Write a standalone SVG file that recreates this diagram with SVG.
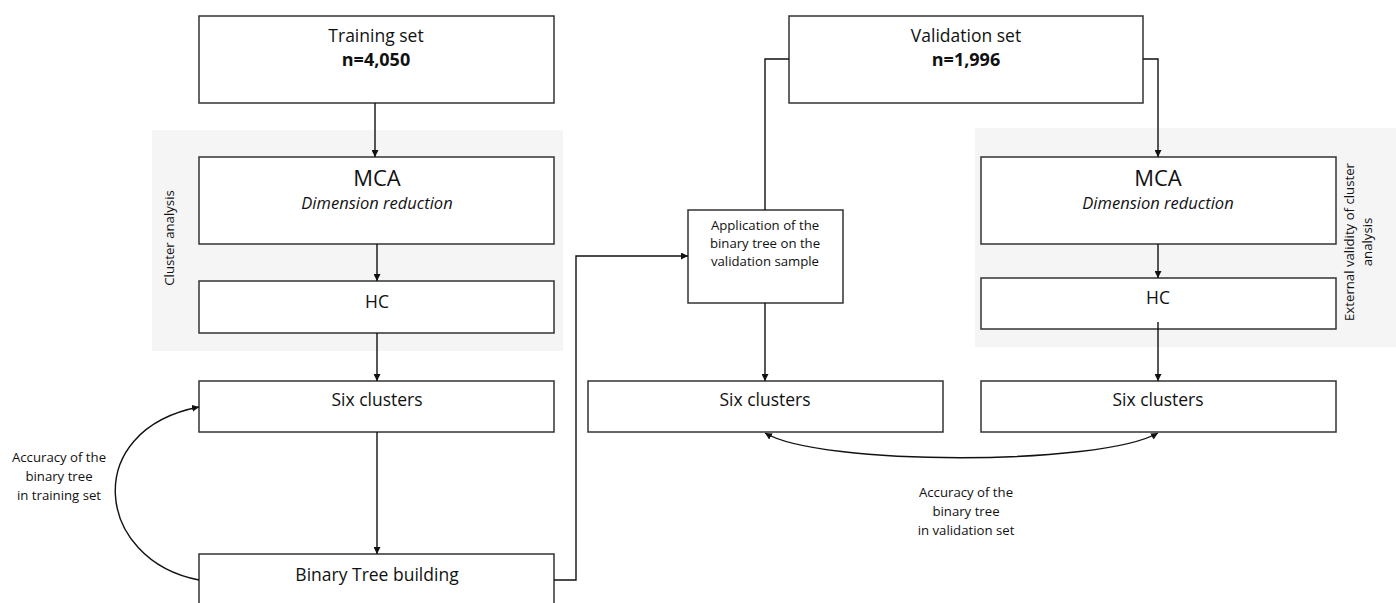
<svg xmlns="http://www.w3.org/2000/svg" width="1396" height="603" viewBox="0 0 1396 603">
<style>
.box{fill:#fff;stroke:#333;stroke-width:1.5}
.panel{fill:#f5f5f5;stroke:none}
.t{font-family:"Open Sans","Liberation Sans",sans-serif;fill:#111;text-anchor:middle}
.l{font-size:17.5px}
.big{font-size:22px}
.it{font-size:16.5px;font-style:italic}
.b{font-weight:bold;font-size:18px}
.s{font-size:13.2px}
.c{fill:none;stroke:#111;stroke-width:1.4}
</style>
<defs>
<marker id="ah" viewBox="0 0 10 10" refX="10" refY="5" markerWidth="7" markerHeight="7" markerUnits="userSpaceOnUse" orient="auto-start-reverse">
<path d="M0,0 L10,5 L0,10 z" fill="#111"/>
</marker>
</defs>
<rect class="panel" x="152" y="130" width="411" height="221"/>
<rect class="panel" x="975" y="128" width="421" height="219"/>
<text class="t s" transform="translate(174,238) rotate(-90)">Cluster analysis</text>
<text class="t s" transform="translate(1354,242) rotate(-90)">External validity of cluster</text>
<text class="t s" transform="translate(1372,242) rotate(-90)">analysis</text>

<g id="training"><rect class="box" x="199" y="16" width="355" height="87"/>
<text class="t l" x="376" y="42">Training set</text><text class="t b" x="376" y="66">n=4,050</text></g>
<g id="mca1"><rect class="box" x="199" y="157" width="355" height="87"/>
<text class="t big" x="377" y="186">MCA</text><text class="t it" x="377" y="209">Dimension reduction</text></g>
<g id="hc1"><rect class="box" x="199" y="281" width="355" height="52"/>
<text class="t l" x="377" y="308">HC</text></g>
<g id="six1"><rect class="box" x="199" y="381" width="355" height="51"/>
<text class="t l" x="377" y="406">Six clusters</text></g>
<g id="binary"><rect class="box" x="199" y="554" width="355" height="60"/>
<text class="t l" x="377" y="581">Binary Tree building</text></g>

<g id="validation"><rect class="box" x="789" y="16" width="354" height="87"/>
<text class="t l" x="966" y="42">Validation set</text><text class="t b" x="966" y="66">n=1,996</text></g>
<g id="application"><rect class="box" x="688" y="210" width="155" height="93"/>
<text class="t s" x="765" y="230">Application of the</text>
<text class="t s" x="765" y="248">binary tree on the</text>
<text class="t s" x="765" y="266">validation sample</text></g>
<g id="six2"><rect class="box" x="588" y="381" width="355" height="51"/>
<text class="t l" x="765" y="406">Six clusters</text></g>

<g id="mca2"><rect class="box" x="981" y="157" width="355" height="87"/>
<text class="t big" x="1158" y="186">MCA</text><text class="t it" x="1158" y="209">Dimension reduction</text></g>
<g id="hc2"><rect class="box" x="981" y="278" width="355" height="51"/>
<text class="t l" x="1158" y="304">HC</text></g>
<g id="six3"><rect class="box" x="981" y="381" width="355" height="51"/>
<text class="t l" x="1158" y="406">Six clusters</text></g>

<g id="labels">
<text class="t s" x="59" y="462">Accuracy of the</text>
<text class="t s" x="59" y="481">binary tree</text>
<text class="t s" x="59" y="500">in training set</text>
<text class="t s" x="966" y="497">Accuracy of the</text>
<text class="t s" x="966" y="516">binary tree</text>
<text class="t s" x="966" y="535">in validation set</text>
</g>

<g id="connectors">
<path class="c" d="M375,103 V157" marker-end="url(#ah)"/>
<path class="c" d="M377,244 V281" marker-end="url(#ah)"/>
<path class="c" d="M377,333 V381" marker-end="url(#ah)"/>
<path class="c" d="M377,432 V554" marker-end="url(#ah)"/>
<path class="c" d="M554,580 H576 V256 H688" marker-end="url(#ah)"/>
<path class="c" d="M789,59 H765 V210"/>
<path class="c" d="M765,303 V381" marker-end="url(#ah)"/>
<path class="c" d="M1143,59 H1158 V157" marker-end="url(#ah)"/>
<path class="c" d="M1158,244 V278" marker-end="url(#ah)"/>
<path class="c" d="M1158,322 V381" marker-end="url(#ah)"/>
<path class="c" d="M199,580 C95,560 80,430 199,407" marker-end="url(#ah)"/>
<path class="c" d="M765,433 C820,466 1100,466 1158,433" marker-start="url(#ah)" marker-end="url(#ah)"/>
</g>
</svg>
